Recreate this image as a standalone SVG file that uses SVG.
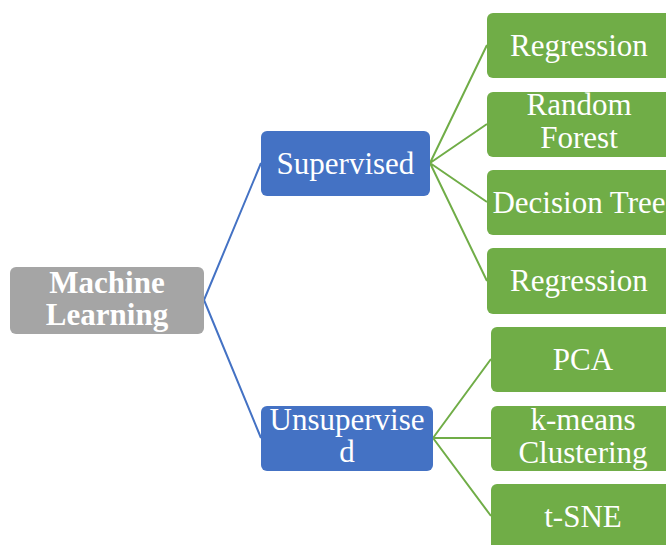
<svg xmlns="http://www.w3.org/2000/svg" width="666" height="545" viewBox="0 0 666 545">
<style>
text{font-family:'Liberation Serif','Times New Roman','DejaVu Serif',serif;font-size:31px;fill:#fff;text-anchor:middle}
.b{font-weight:bold}
.g{fill:#a5a5a5}
.bl{fill:#4472c4}
.gr{fill:#70ad47}
.cb{stroke:#4472c4;stroke-width:2;fill:none}
.cg{stroke:#70ad47;stroke-width:2;fill:none}
</style>
<rect width="666" height="545" fill="#fff"/>
<g id="connectors">
<path class="cb" d="M204,300 L261,163 M204,300 L261,438"/>
<path class="cg" d="M430,163 L487,45 M430,163 L487,124 M430,163 L487,202 M430,163 L487,281"/>
<path class="cg" d="M433,438 L491,359 M433,438 L491,438 M433,438 L491,516"/>
</g>
<g id="machine-learning">
<rect class="g" x="10" y="267" width="194" height="67" rx="6"/>
<text class="b" x="107" y="293">Machine</text>
<text class="b" x="107" y="325">Learning</text>
</g>
<g id="supervised">
<rect class="bl" x="261" y="131" width="169" height="65" rx="6"/>
<text x="345.5" y="174">Supervised</text>
</g>
<g id="unsupervised">
<rect class="bl" x="261" y="406" width="172" height="65" rx="6"/>
<text x="347" y="430">Unsupervise</text>
<text x="347" y="462">d</text>
</g>
<g id="regression-1">
<rect class="gr" x="487" y="13" width="184" height="65" rx="6"/>
<text x="579" y="56">Regression</text>
</g>
<g id="random-forest">
<rect class="gr" x="487" y="92" width="184" height="65" rx="6"/>
<text x="579" y="115">Random</text>
<text x="579" y="148">Forest</text>
</g>
<g id="decision-tree">
<rect class="gr" x="487" y="170" width="184" height="65" rx="6"/>
<text x="579" y="213">Decision Tree</text>
</g>
<g id="regression-2">
<rect class="gr" x="487" y="248" width="184" height="66" rx="6"/>
<text x="579" y="291">Regression</text>
</g>
<g id="pca">
<rect class="gr" x="491" y="327" width="184" height="65" rx="6"/>
<text x="583" y="370">PCA</text>
</g>
<g id="k-means">
<rect class="gr" x="491" y="406" width="184" height="65" rx="6"/>
<text x="583" y="430">k-means</text>
<text x="583" y="463">Clustering</text>
</g>
<g id="t-sne">
<rect class="gr" x="491" y="484" width="184" height="70" rx="6"/>
<text x="583" y="527">t-SNE</text>
</g>
</svg>
